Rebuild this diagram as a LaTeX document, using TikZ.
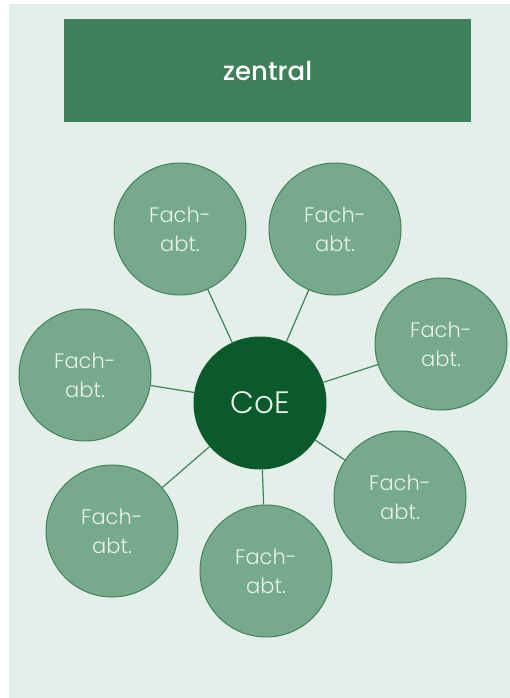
\documentclass[tikz,border=0pt]{standalone}
\usepackage{fontspec}
\setmainfont{Poppins}
\definecolor{bgc}{HTML}{E5EFEA}
\definecolor{headc}{HTML}{3D8059}
\definecolor{coec}{HTML}{0B5A2C}
\definecolor{satc}{HTML}{77A98C}
\definecolor{satline}{HTML}{3F8359}
\definecolor{txtc}{HTML}{E8F1EC}
\tikzset{
  sat/.style={circle,draw=satline,line width=1pt,fill=satc,minimum size=132pt,inner sep=0pt,
    text=txtc,font=\fontsize{21}{29}\selectfont\fontspec{Poppins Light},align=center},
  coe/.style={circle,fill=coec,minimum size=133pt,inner sep=0pt,text=txtc,
    font=\fontsize{31}{34}\selectfont\fontspec{Poppins Light}},
  link/.style={draw=satline,line width=1.2pt}
}
\begin{document}
\begin{tikzpicture}[x=1pt,y=-1pt]
\useasboundingbox (0,0) rectangle (510,698);
\fill[white] (0,0) rectangle (510,698);
\fill[bgc] (9,4) rectangle (510,698);
\node[fill=headc,minimum width=407pt,minimum height=103pt,inner sep=0pt,text=white,
  font=\fontsize{26}{30}\selectfont\fontspec{Poppins Medium}] (head) at (267.5,70.5) {zentral};
\node[sat] (s1) at (180,229) {Fach-\\abt.};
\node[sat] (s2) at (335,229) {Fach-\\abt.};
\node[sat] (s3) at (441,344) {Fach-\\abt.};
\node[sat] (s4) at (85,375) {Fach-\\abt.};
\node[sat] (s5) at (400,497) {Fach-\\abt.};
\node[sat] (s6) at (112,531) {Fach-\\abt.};
\node[sat] (s7) at (266,571) {Fach-\\abt.};
\node[coe] (c) at (260,403) {CoE};
\foreach \s in {s1,s2,s3,s4,s5,s6,s7}{\draw[link] (c) -- (\s);}
\end{tikzpicture}
\end{document}
